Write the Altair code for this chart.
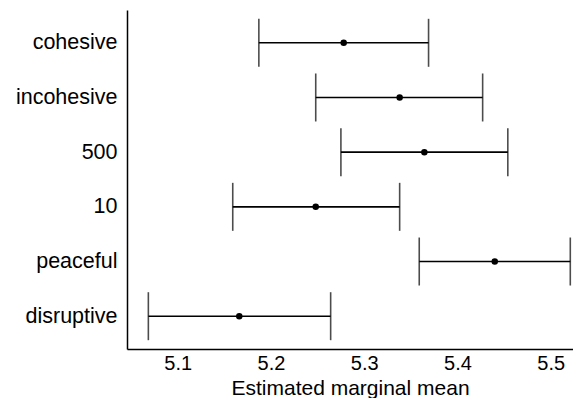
import altair as alt
import pandas as pd

categories = ["cohesive", "incohesive", "500", "10", "peaceful", "disruptive"]
means = [5.278, 5.338, 5.3645, 5.248, 5.440, 5.166]
lower = [5.187, 5.248, 5.275, 5.159, 5.359, 5.0685]
upper = [5.369, 5.427, 5.454, 5.338, 5.521, 5.264]
x_ticks = [5.1, 5.2, 5.3, 5.4, 5.5]

df = pd.DataFrame({"cat": categories, "mean": means, "lo": lower, "hi": upper})

FONT = "Liberation Sans"
xscale = alt.Scale(domain=[5.0456, 5.5239], nice=False, zero=False)
yscale = alt.Scale(type="point", padding=0.6)

yenc = alt.Y("cat:N", sort=categories, scale=yscale, title=None,
             axis=alt.Axis(ticks=False, domain=True, domainColor="black", domainWidth=1.5,
                           labelFont=FONT, labelFontSize=21.5, labelColor="black",
                           labelPadding=10, grid=False))
xaxis = alt.Axis(values=x_ticks, format=".1f", ticks=False, domain=True, domainColor="black",
                 domainWidth=1.5, labelFont=FONT, labelFontSize=20, labelColor="black",
                 labelPadding=4, grid=False, titleFont=FONT, titleFontSize=21,
                 titleFontWeight="normal", titleColor="black",
                 titleBaseline="alphabetic", titleY=45)

base = alt.Chart(df)
bars = base.mark_rule(color="black", strokeWidth=1.6).encode(
    x=alt.X("lo:Q", scale=xscale, axis=xaxis, title="Estimated marginal mean"),
    x2="hi:Q",
    y=yenc,
)
cap_lo = base.mark_tick(color="black", thickness=1.6, size=48, orient="vertical").encode(
    x=alt.X("lo:Q", scale=xscale), y=alt.Y("cat:N", sort=categories, scale=yscale))
cap_hi = base.mark_tick(color="black", thickness=1.6, size=48, orient="vertical").encode(
    x=alt.X("hi:Q", scale=xscale), y=alt.Y("cat:N", sort=categories, scale=yscale))
dots = base.mark_circle(color="black", opacity=1, size=42).encode(
    x=alt.X("mean:Q", scale=xscale), y=alt.Y("cat:N", sort=categories, scale=yscale))

chart = alt.layer(bars, cap_lo, cap_hi, dots).properties(
    width=446, height=339,
    autosize=alt.AutoSizeParams(type="none"),
    padding={"left": 119, "top": 2, "right": 0, "bottom": 49},
).configure_view(stroke=None)

chart.save("out.html", embed_options={"renderer": "svg", "actions": False})
